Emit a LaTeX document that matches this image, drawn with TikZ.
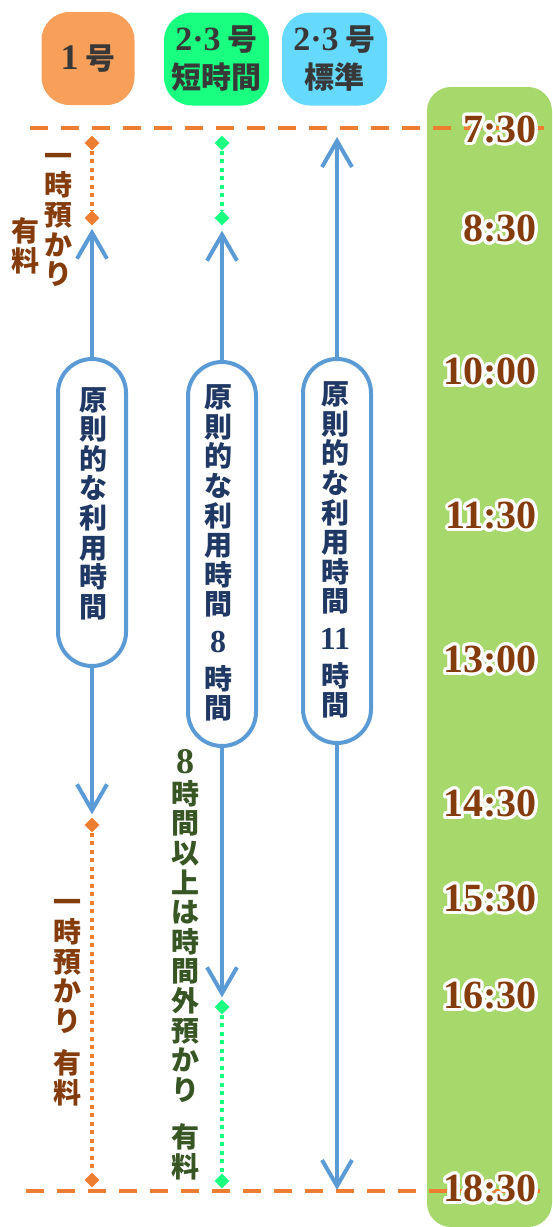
\documentclass[tikz,border=0pt]{standalone}
\usepackage{fontspec}
\newfontfamily\jpf{Noto Sans CJK JP}
\newfontfamily\numf{Liberation Serif}
\usepackage{contour}
\contourlength{3pt}
\contournumber{24}
\usetikzlibrary{arrows.meta,shapes.geometric}
\definecolor{orline}{HTML}{ED7D31}
\definecolor{orbox}{HTML}{F8A05A}
\definecolor{grbox}{HTML}{19FF80}
\definecolor{blbox}{HTML}{66D9FF}
\definecolor{colbg}{HTML}{A6D86C}
\definecolor{blu}{HTML}{5B9BD5}
\definecolor{brn}{HTML}{843C0C}
\definecolor{navy}{HTML}{203864}
\definecolor{dgreen}{HTML}{375623}
\definecolor{hdrtext}{HTML}{383838}
\definecolor{grdot}{HTML}{19FF80}
\begin{document}
\begin{tikzpicture}[x=1pt,y=-1pt,
 hdrbox/.style={rectangle, rounded corners=28pt, minimum height=93pt, inner sep=0pt, align=center, text=hdrtext, font=\jpf\bfseries\fontsize{30}{38}\selectfont},
 capsule/.style={rectangle, draw=blu, line width=4pt, fill=white, rounded corners=34pt, minimum width=68pt, inner sep=0pt},
 vtext/.style={inner sep=0pt, align=center, font=\jpf\bfseries\fontsize{28}{29.6}\selectfont},
 tlabel/.style={anchor=east, inner sep=0pt, text=brn, font=\numf\bfseries\fontsize{40}{40}\selectfont},
 dashline/.style={draw=orline, line width=4pt, dash pattern=on 18pt off 13pt},
 odots/.style={draw=orline, line width=3.5pt, dash pattern=on 4pt off 4.5pt},
 gdots/.style={draw=grdot, line width=3.5pt, dash pattern=on 4pt off 4.5pt},
 odia/.style={diamond, fill=orline, inner sep=0pt, minimum width=15pt, minimum height=15pt},
 gdia/.style={diamond, fill=grdot, inner sep=0pt, minimum width=15pt, minimum height=15pt},
 barrow/.style={draw=blu, line width=4pt, -{Straight Barb[length=26pt,width=30pt]}},
]
\useasboundingbox (0,0) rectangle (552,1227);
% time column background
\fill[colbg, rounded corners=24pt] (427,87) rectangle (552,1227);

% header boxes
\node[hdrbox, fill=orbox, minimum width=93pt] (h1) at (88,58.5) {{\numf\bfseries\fontsize{36}{38}\selectfont 1} 号};
\node[hdrbox, fill=grbox, minimum width=105pt] (h2) at (216.5,59) {{\numf\bfseries\fontsize{34}{38}\selectfont 2·3} 号\\短時間};
\node[hdrbox, fill=blbox, minimum width=105pt] (h3) at (334.5,59) {{\numf\bfseries\fontsize{34}{38}\selectfont 2·3} 号\\標準};

% dashed time lines
\coordinate (dl1) at (30,128);
\coordinate (dr1) at (552,128);
\coordinate (dl2) at (26,1191);
\coordinate (dr2) at (552,1191);
\draw[dashline] (dl1) -- (dr1);
\draw[dashline] (dl2) -- (dr2);

% column 1
\node[odia] (o1a) at (92,143) {};
\node[odia] (o1b) at (92,218) {};
\node[odia] (o1c) at (92,825) {};
\node[odia] (o1d) at (92,1180) {};
\draw[odots] (o1a) -- (o1b);
\draw[odots] (o1c) -- (o1d);
\node[capsule, minimum height=307pt] (cap1) at (92,512.5) {};
\draw[barrow, shorten >=3pt] (cap1) -- (o1b);
\draw[barrow, shorten >=3pt] (cap1) -- (o1c);
\node[vtext, text=navy] (txt1) at (93,503.5) {原\\則\\的\\な\\利\\用\\時\\間};
\node[vtext, text=brn] (n1a) at (58,214.5) {\vphantom{時}一\\時\\預\\か\\り};
\node[vtext, text=brn] (n1b) at (25,246) {有\\料};
\node[vtext, text=brn] (n1c) at (67,997.5) {\vphantom{時}一\\時\\預\\か\\り\\[13pt]有\\料};

% column 2
\node[gdia] (g2a) at (222,143) {};
\node[gdia] (g2b) at (222,218) {};
\node[gdia] (g2c) at (222,1007) {};
\node[gdia] (g2d) at (222,1181) {};
\draw[gdots] (g2a) -- (g2b);
\draw[gdots] (g2c) -- (g2d);
\node[capsule, minimum height=384pt] (cap2) at (222,554) {};
\draw[barrow, shorten >=5pt] (cap2) -- (g2b);
\draw[barrow, shorten >=2pt] (cap2) -- (g2c);
\node[vtext, text=navy] (txt2) at (218,553) {原\\則\\的\\な\\利\\用\\時\\間\\[8pt]{\numf\bfseries\fontsize{32}{30}\selectfont 8}\\[7pt]時\\間};
\node[vtext, text=dgreen] (n2) at (185,965) {{\numf\bfseries\fontsize{36}{30}\selectfont 8}\\[1pt]時\\間\\以\\上\\は\\時\\間\\外\\預\\か\\り\\[18pt]有\\料};

% column 3
\coordinate (t3a) at (337,128);
\coordinate (t3b) at (337,1191);
\node[capsule, minimum height=384pt] (cap3) at (337,551) {};
\draw[barrow, shorten >=9pt] (cap3) -- (t3a);
\draw[barrow, shorten >=1pt] (cap3) -- (t3b);
\node[vtext, text=navy] (txt3) at (335,550) {原\\則\\的\\な\\利\\用\\時\\間\\[8pt]{\numf\bfseries\fontsize{32}{30}\selectfont 11}\\[7pt]時\\間};

% time labels (white glow)
\node[tlabel] (t0730) at (537,131) {\contour{white}{7:30}};
\node[tlabel] (t0830) at (537,230) {\contour{white}{8:30}};
\node[tlabel] (t1000) at (537,373) {\contour{white}{10:00}};
\node[tlabel] (t1130) at (537,517) {\contour{white}{11:30}};
\node[tlabel] (t1300) at (537,661) {\contour{white}{13:00}};
\node[tlabel] (t1430) at (537,805) {\contour{white}{14:30}};
\node[tlabel] (t1530) at (537,900) {\contour{white}{15:30}};
\node[tlabel] (t1630) at (537,997) {\contour{white}{16:30}};
\node[tlabel] (t1830) at (537,1190) {\contour{white}{18:30}};
\end{tikzpicture}
\end{document}
